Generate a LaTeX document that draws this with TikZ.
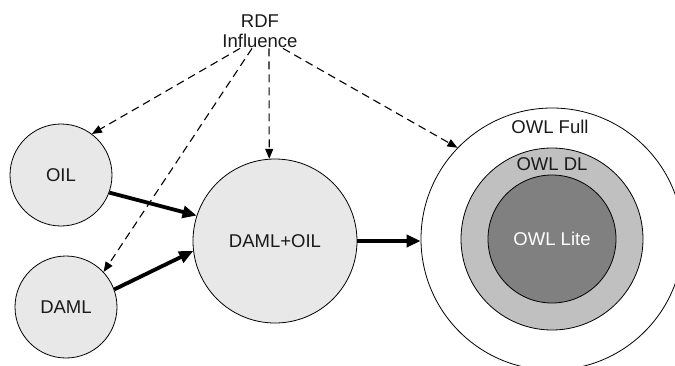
\documentclass[tikz,border=0pt]{standalone}
\usepackage{fontspec}
\setmainfont{Liberation Sans}
\usetikzlibrary{arrows.meta, positioning}
\definecolor{langfill}{HTML}{E8E8E8}
\definecolor{dlfill}{HTML}{C0C0C0}
\definecolor{litefill}{HTML}{808080}
\definecolor{inktext}{HTML}{1A1A1A}

\begin{document}
\begin{tikzpicture}[x=1pt,y=-1pt,
  every node/.style={font=\fontsize{18.5}{19.5}\selectfont,text=inktext},
  lang/.style={circle,draw=black,line width=0.8pt,fill=langfill,inner sep=0pt},
  influence/.style={line width=1.1pt,dash pattern=on 8pt off 5pt,-{Triangle[length=10pt,width=8pt]}},
  derive/.style={line width=3.8pt,-{Triangle[length=14pt,width=12pt]}}]
\useasboundingbox (0,0) rectangle (675,365);
\clip (0,0) rectangle (675,365);
%owl family
\node[lang,fill=white,minimum size=262pt] (full) at (552,239) {};
\node[lang,fill=dlfill,minimum size=182pt] (dl) at (full.center) {};
\node[lang,fill=litefill,minimum size=128pt,text=white] (lite) at (full.center) {OWL Lite};
\node (fulltext) at (550,127) {OWL Full};
\node (dltext) at (552,164) {OWL DL};
%predecessors
\node[lang,minimum size=102pt] (oil) at (61,175) {OIL};
\node[lang,minimum size=102pt] (daml) at (66,307) {DAML};
\node[lang,minimum size=164pt] (damloil) at (275,241) {DAML+OIL};
%rdf influence
\node[align=center,inner sep=1pt] (rdf) at (260,31) {RDF\\Influence};
\draw[influence] ([xshift=-20pt]rdf.south) -- (oil.53);
\draw[influence] ([xshift=-8pt]rdf.south) -- (daml.43);
\draw[influence] ([xshift=9pt]rdf.south) -- (damloil.94);
\draw[influence] ([xshift=23pt]rdf.south) -- (full.136);
%merging
\draw[derive] (oil.-20) -- (damloil.162);
\draw[derive] (daml.20) -- (damloil.187);
\draw[derive] (damloil.east) -- (damloil.east -| full.west);
\end{tikzpicture}
\end{document}
